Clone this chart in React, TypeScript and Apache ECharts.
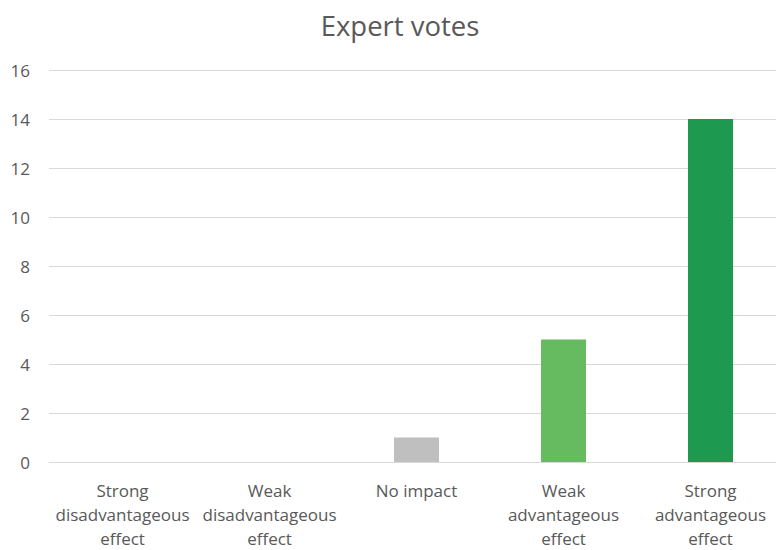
import React, { useEffect, useRef } from "react";
import * as echarts from "echarts";

const categories = [
  "Strong\ndisadvantageous\neffect",
  "Weak\ndisadvantageous\neffect",
  "No impact",
  "Weak\nadvantageous\neffect",
  "Strong\nadvantageous\neffect",
];
const votes = [0, 0, 1, 5, 14];
const barColors = ["#bfbfbf", "#bfbfbf", "#bfbfbf", "#66bb60", "#1e9950"];
const yTicks = { min: 0, max: 16, interval: 2 };

export default function App() {
  const ref = useRef<HTMLDivElement>(null);
  useEffect(() => {
    if (!ref.current) return;
    const chart = echarts.init(ref.current, null, { renderer: "svg" });
    chart.setOption({
      animation: false,
      backgroundColor: "#ffffff",
      textStyle: { fontFamily: "Open Sans" },
      title: {
        text: "Expert votes",
        left: "center",
        top: 6,
        textStyle: { fontFamily: "Open Sans", fontSize: 27.5, fontWeight: "normal", color: "#595959" },
      },
      grid: { left: 49, top: 70, width: 735, height: 394.5 },
      xAxis: {
        type: "category",
        data: categories,
        axisLine: { show: true, lineStyle: { color: "#d9d9d9", width: 1 } },
        axisTick: { show: false },
        axisLabel: {
          color: "#595959",
          fontSize: 17,
          lineHeight: 24,
          margin: 16,
          interval: 0,
        },
      },
      yAxis: {
        type: "value",
        min: yTicks.min,
        max: yTicks.max,
        interval: yTicks.interval,
        axisLine: { show: false },
        axisTick: { show: false },
        splitLine: { lineStyle: { color: "#d9d9d9", width: 1 } },
        axisLabel: { color: "#595959", fontSize: 17, margin: 19 },
      },
      series: [
        {
          type: "bar",
          barWidth: 45,
          data: votes.map((v, i) => ({ value: v, itemStyle: { color: barColors[i] } })),
        },
      ],
    });
    return () => chart.dispose();
  }, []);
  return (
    <div style={{ position: "fixed", left: 0, top: 0, width: 776, height: 550, overflow: "hidden" }}>
      <div ref={ref} style={{ width: 800, height: 550 }} />
    </div>
  );
}
